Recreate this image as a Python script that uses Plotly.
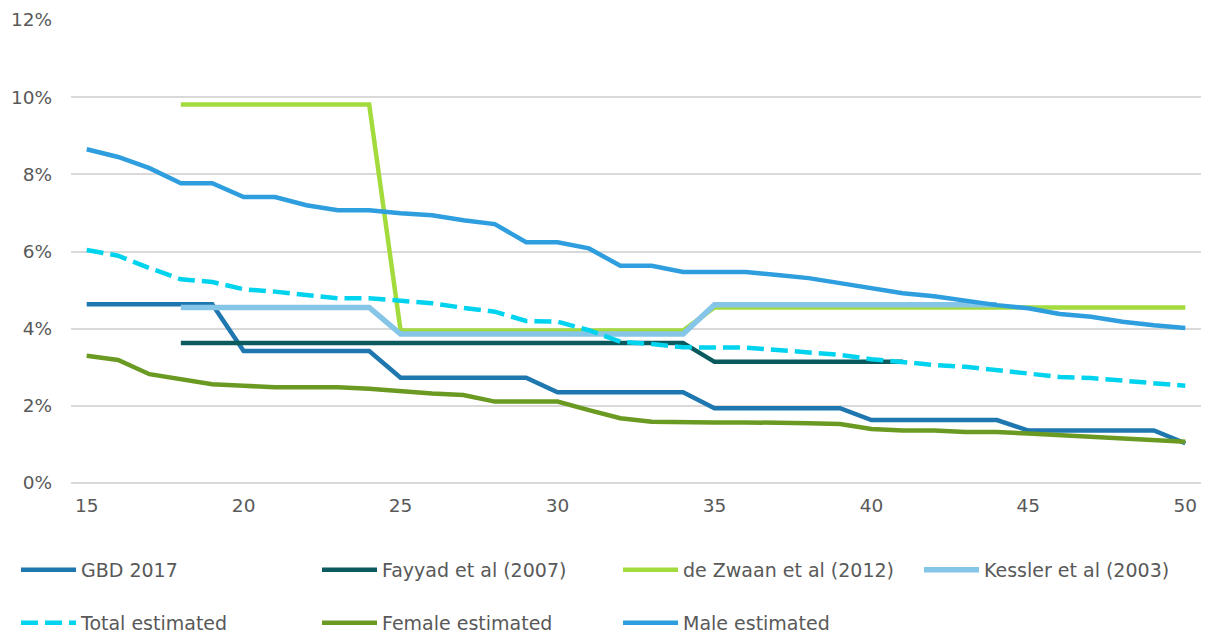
import plotly.graph_objects as go

ages = list(range(15, 51))

gbd_2017 = [4.63]*5 + [3.42]*5 + [2.73]*5 + [2.35]*5 + [1.94]*5 + [1.63]*5 + [1.36]*5 + [1.03]
fayyad_2007 = [None]*3 + [3.63]*17 + [3.14]*7 + [None]*9
de_zwaan_2012 = [None]*3 + [9.81]*7 + [3.95]*10 + [4.55]*16
kessler_2003 = [None]*3 + [4.55]*7 + [3.86]*10 + [4.62]*10 + [None]*6
total_est = [6.04, 5.89, 5.57, 5.28, 5.21, 5.02, 4.96, 4.87, 4.79, 4.79, 4.72, 4.66, 4.54, 4.44,
             4.20, 4.18, 3.96, 3.66, 3.60, 3.52, 3.51, 3.51, 3.45, 3.39, 3.32, 3.21, 3.13, 3.06,
             3.01, 2.93, 2.85, 2.75, 2.72, 2.65, 2.59, 2.52]
female_est = [3.30, 3.19, 2.82, 2.69, 2.56, 2.52, 2.48, 2.48, 2.48, 2.44, 2.37, 2.32, 2.28, 2.11,
              2.11, 2.11, 1.89, 1.68, 1.59, 1.57, 1.57, 1.57, 1.57, 1.55, 1.53, 1.40, 1.36, 1.36,
              1.32, 1.32, 1.28, 1.24, 1.20, 1.16, 1.11, 1.07]
male_est = [8.65, 8.45, 8.16, 7.77, 7.77, 7.41, 7.41, 7.20, 7.07, 7.07, 6.99, 6.94, 6.81, 6.71,
            6.24, 6.24, 6.08, 5.63, 5.63, 5.47, 5.47, 5.47, 5.39, 5.31, 5.18, 5.05, 4.92, 4.84,
            4.72, 4.61, 4.53, 4.38, 4.31, 4.18, 4.09, 4.02]

series = [
    ("GBD 2017", gbd_2017, "#1F77B0", 4.5, "solid", "legend"),
    ("Fayyad et al (2007)", fayyad_2007, "#0A5A5E", 4.5, "solid", "legend"),
    ("de Zwaan et al (2012)", de_zwaan_2012, "#A3DA3C", 4.5, "solid", "legend"),
    ("Kessler et al (2003)", kessler_2003, "#85C5E8", 5.5, "solid", "legend"),
    ("Total estimated", total_est, "#00D3EE", 4.5, "17px,7px", "legend2"),
    ("Female estimated", female_est, "#6A9A22", 4.5, "solid", "legend2"),
    ("Male estimated", male_est, "#2E9EDE", 4.5, "solid", "legend2"),
]

FONT = "Verdana, DejaVu Sans, sans-serif"
fig = go.Figure()
for name, vals, color, w, dash, lg in series:
    fig.add_trace(go.Scatter(x=ages, y=vals, name=name, mode="lines",
                             line=dict(color=color, width=w, dash=dash),
                             connectgaps=False, legend=lg))

PLOT_L, PLOT_R, PLOT_T, PLOT_B = 71, 1201, 20, 483
PW, PH = PLOT_R - PLOT_L, PLOT_B - PLOT_T

leg_common = dict(orientation="h", xref="paper", yref="paper",
                  x=(16 - PLOT_L) / PW, xanchor="left", yanchor="middle",
                  entrywidth=231, entrywidthmode="pixels", itemwidth=55,
                  font=dict(family=FONT, size=19, color="#595959"),
                  bgcolor="rgba(0,0,0,0)", traceorder="normal")

fig.update_layout(
    width=1208, height=637,
    margin=dict(l=PLOT_L, r=1208 - PLOT_R, t=PLOT_T, b=637 - PLOT_B, autoexpand=False),
    paper_bgcolor="white", plot_bgcolor="white",
    font=dict(family=FONT, size=18.5, color="#595959"),
    legend=dict(**leg_common, y=(PLOT_B - 570) / PH),
    legend2=dict(**leg_common, y=(PLOT_B - 623) / PH),
    xaxis=dict(range=[14.5, 50.5], tickmode="array", tickvals=[15, 20, 25, 30, 35, 40, 45, 50],
               showgrid=False, zeroline=False, showline=False, ticks="", automargin=False,
               ticklabelstandoff=9,
               tickfont=dict(family=FONT, size=18.5, color="#595959")),
    yaxis=dict(range=[0, 12], dtick=2, ticksuffix="%", showgrid=True, gridcolor="#D9D9D9",
               gridwidth=1.5, zeroline=True, zerolinecolor="#D9D9D9", zerolinewidth=1.5,
               showline=False, ticks="", ticklabelstandoff=18, automargin=False,
               tickfont=dict(family=FONT, size=18.5, color="#595959")),
)

fig.write_html("out.html", config={"displayModeBar": False},
               post_script="document.body.style.margin='0';")
